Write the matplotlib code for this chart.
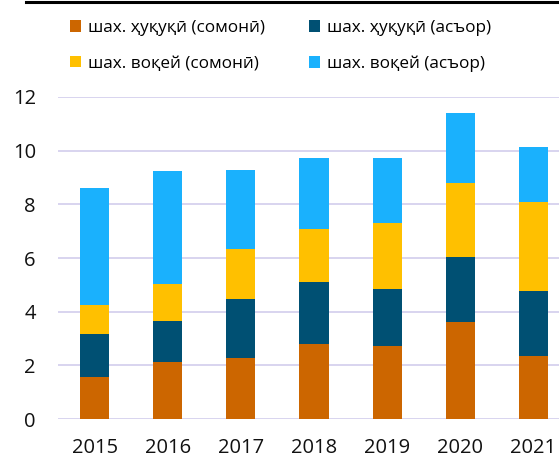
import matplotlib
matplotlib.use("Agg")
import matplotlib.pyplot as plt
import numpy as np
from matplotlib.lines import Line2D

years = ["2015", "2016", "2017", "2018", "2019", "2020", "2021"]
legal_tjs = [1.55, 2.11, 2.27, 2.80, 2.73, 3.62, 2.34]
legal_fx = [1.61, 1.54, 2.19, 2.31, 2.12, 2.42, 2.43]
indiv_tjs = [1.09, 1.38, 1.89, 1.98, 2.44, 2.74, 3.31]
indiv_fx = [4.35, 4.20, 2.93, 2.64, 2.43, 2.64, 2.07]

labels = ["шах. ҳуқуқӣ (сомонӣ)", "шах. ҳуқуқӣ (асъор)",
          "шах. воқей (сомонӣ)", "шах. воқей (асъор)"]
colors = ["#CC6600", "#005073", "#FFC000", "#1AB1FD"]

plt.rcParams["font.family"] = ["Open Sans", "DejaVu Sans"]

fig = plt.figure(figsize=(5.59, 4.59), dpi=100)
ax = fig.add_axes([0.1038, 0.0871, 0.8962, 0.7016])

x = np.arange(len(years))
bottom = np.zeros(len(years))
series = [legal_tjs, legal_fx, indiv_tjs, indiv_fx]
for vals, col, lab in zip(series, colors, labels):
    ax.bar(x, vals, bottom=bottom, width=0.4, color=col, edgecolor="none",
           label=lab, zorder=3)
    bottom += np.array(vals)

ax.set_xlim(-0.5, 6.35)
ax.set_ylim(0, 12)
ax.set_yticks(range(0, 13, 2))
ax.set_xticks(x)
ax.set_xticklabels(years)
ax.tick_params(axis="both", length=0, labelsize=14.5, colors="#111111")
ax.tick_params(axis="y", pad=16)
ax.tick_params(axis="x", pad=14)
ax.grid(axis="y", color="#D6D1EE", linewidth=1.3, zorder=0)
for spine in ax.spines.values():
    spine.set_visible(False)

# top rule
fig.add_artist(Line2D([26 / 559, 1.0], [1 - 2 / 459, 1 - 2 / 459],
                      color="black", linewidth=2.2))

handles, labs = ax.get_legend_handles_labels()
order = [0, 2, 1, 3]
fig.legend([handles[i] for i in order], [labs[i] for i in order],
           loc="upper left", bbox_to_anchor=(0.097, 0.99), ncol=2,
           frameon=False, fontsize=12.3, handlelength=0.65, handleheight=0.65,
           handletextpad=0.4, columnspacing=2.6, labelspacing=1.15)

fig.savefig("out.png", dpi=100)
